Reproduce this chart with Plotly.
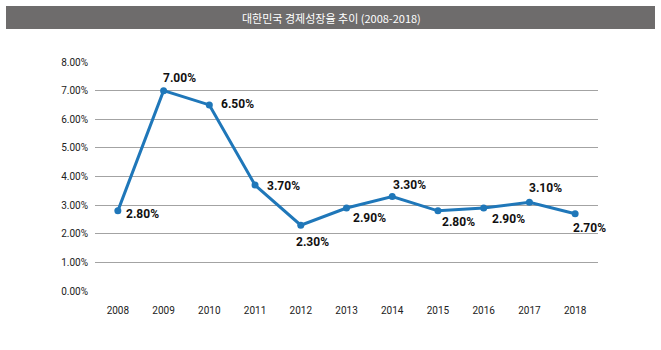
import plotly.graph_objects as go

years = ["2008", "2009", "2010", "2011", "2012", "2013", "2014", "2015", "2016", "2017", "2018"]
growth = [2.8, 7.0, 6.5, 3.7, 2.3, 2.9, 3.3, 2.8, 2.9, 3.1, 2.7]
y_ticks = [0, 1, 2, 3, 4, 5, 6, 7, 8]
title_text = "대한민국 경제성장율 추이 (2008-2018)"

# label offsets (pixels) for each point
label_dx = [25, 16, 28, 28, 12, 23, 17, 21, 25, 16, 14]
label_dy = [-3, 13, 1, -1, -17, -10, 12, -11, -11, 14, -14]

L, R, T, B = 95, 63, 62, 59
W, H = 661, 350
pw = W - L - R
ph = H - T - B

fig = go.Figure()
fig.add_trace(go.Scatter(
    x=years, y=growth, mode="lines+markers",
    line=dict(color="#1f77b9", width=3),
    marker=dict(color="#1f77b9", size=7),
    hoverinfo="skip",
))

annotations = []
for i, (v, dx, dy) in enumerate(zip(growth, label_dx, label_dy)):
    annotations.append(dict(
        x=i, y=v, xref="x", yref="y", text=f"<b>{v:.2f}%</b>", showarrow=False,
        xshift=dx, yshift=dy,
        font=dict(family="Roboto", size=12, color="#111111"),
    ))

annotations.append(dict(
    xref="paper", yref="paper",
    x=(331 - L) / pw, y=(H - B - 17.5) / ph,
    xanchor="center", yanchor="middle",
    text=title_text, showarrow=False,
    font=dict(family="Noto Sans CJK KR", size=11, color="white"),
))

shapes = [dict(type="rect", xref="paper", yref="paper",
               x0=(6 - L) / pw, x1=(655 - L) / pw,
               y0=(H - B - 29) / ph, y1=(H - B - 6) / ph,
               fillcolor="#6e6c6c", line=dict(width=0), layer="below")]

fig.update_layout(
    width=W, height=H,
    margin=dict(l=L, r=R, t=T, b=B),
    paper_bgcolor="white", plot_bgcolor="white",
    showlegend=False,
    font=dict(family="Roboto", size=10, color="#222222"),
    annotations=annotations,
    shapes=shapes,
)
fig.update_xaxes(type="category", range=[-0.5, 10.5], showgrid=False,
                 showline=False, ticks="", tickfont=dict(size=10),
                 ticklabelstandoff=12)
fig.update_yaxes(range=[0, 8], tickvals=y_ticks,
                 ticktext=[f"{t:.2f}%" for t in y_ticks],
                 showgrid=True, gridcolor="#a3a3a3", gridwidth=1,
                 zeroline=False, showline=False, ticks="",
                 tickfont=dict(size=10), ticklabelstandoff=6)

fig.write_html("out.html")
